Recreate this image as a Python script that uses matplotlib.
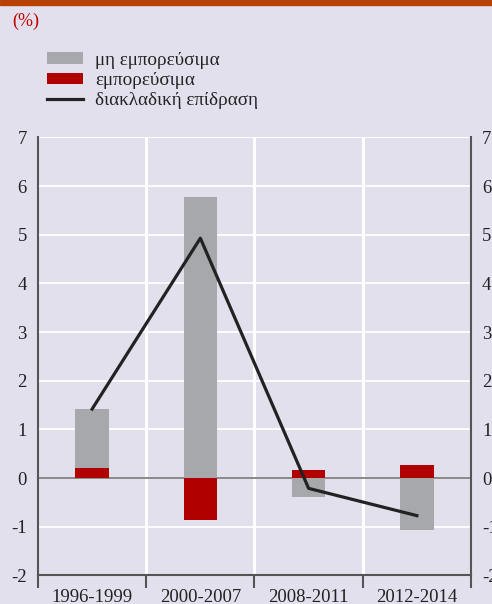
import numpy as np
import matplotlib
matplotlib.use("Agg")
import matplotlib.pyplot as plt
from matplotlib.patches import Rectangle

plt.rcParams["font.family"] = ["Liberation Serif", "DejaVu Serif"]
plt.rcParams["axes.unicode_minus"] = False

periods = ["1996-1999", "2000-2007", "2008-2011", "2012-2014"]
non_tradable = [1.22, 5.77, -0.38, -1.07]
tradable = [0.20, -0.85, 0.17, 0.27]
intersectoral = [1.42, 4.93, -0.21, -0.77]

BG = "#e3e0ee"
GREY = "#a7a8ab"
RED = "#b00000"

fig = plt.figure(figsize=(4.92, 6.04), dpi=100, facecolor=BG)
ax = fig.add_axes([0.0772, 0.0472, 0.8801, 0.7252], facecolor=BG)

# orange strip at the top
fig.patches.append(Rectangle((0, 0.991), 1, 0.009, transform=fig.transFigure,
                             color="#b84000", zorder=5))

x = np.arange(len(periods))
w = 0.31

# stack same-sign parts, opposite signs both start at zero
grey_bottom = [t if (t > 0 and n > 0) or (t < 0 and n < 0) else 0
               for t, n in zip(tradable, non_tradable)]

h_red = ax.bar(x, tradable, w, color=RED, zorder=3)
h_grey = ax.bar(x, non_tradable, w, bottom=grey_bottom, color=GREY, zorder=3)
h_line, = ax.plot(x, intersectoral, color="#222222", lw=2.3, zorder=4)

ax.set_xlim(-0.5, len(x) - 0.5)
ax.set_ylim(-2, 7)
ax.set_yticks(range(-2, 8))

for yv in range(-2, 8):
    ax.axhline(yv, color="white", lw=1.3, zorder=1)
for b in np.arange(0.5, len(x) - 1, 1):
    ax.axvline(b, color="white", lw=2.2, zorder=1)
ax.axhline(0, color="#808080", lw=1.3, zorder=2)

ax.spines["top"].set_visible(False)
for s in ["left", "right", "bottom"]:
    ax.spines[s].set_color("#555555")
    ax.spines[s].set_linewidth(1.5)

ax.set_xticks(x)
ax.set_xticklabels(periods)
ax.set_xticks(np.arange(-0.5, len(x), 1), minor=True)
ax.tick_params(axis="x", which="major", length=0, pad=10, labelsize=13.5,
               colors="#222222")
ax.tick_params(axis="x", which="minor", length=9, width=1.5, direction="out",
               color="#555555")
ax.tick_params(axis="y", length=0, pad=8, labelsize=13.5, labelright=True,
               colors="#222222")

fig.legend([h_grey, h_red, h_line],
           ["μη εμπορεύσιμα", "εμπορεύσιμα", "διακλαδική επίδραση"],
           loc="upper left", bbox_to_anchor=(0.0955, 0.914), frameon=False,
           borderpad=0, borderaxespad=0,
           fontsize=13.8, handlelength=1.9, handleheight=0.57,
           labelspacing=0.17, handletextpad=0.6, labelcolor="#222222")

fig.text(0.024, 0.965, "(%)", color="#c00000", fontsize=13, va="center")

fig.savefig("out.png", dpi=100, facecolor=BG)
